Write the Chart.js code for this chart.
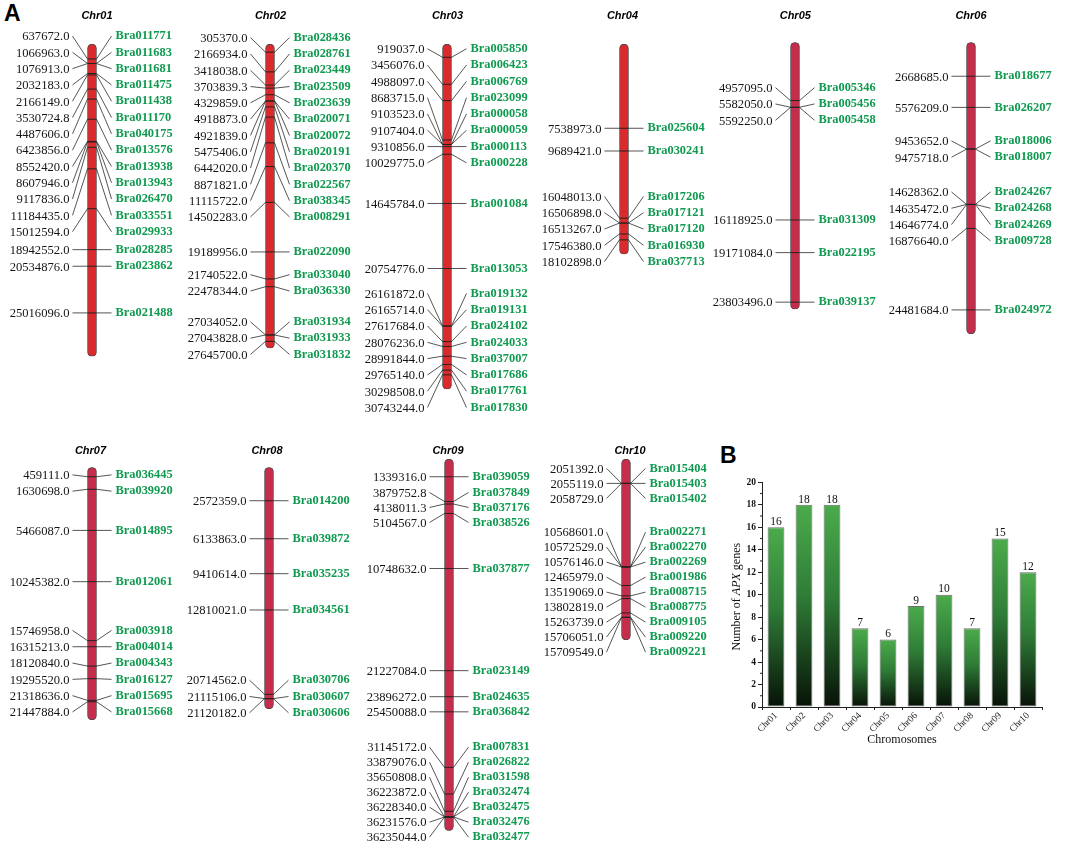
<!DOCTYPE html>
<html>
<head>
<meta charset="utf-8">
<title>APX genes on chromosomes</title>
<script src="https://cdn.jsdelivr.net/npm/chart.js@4"></script>
<style>
    html, body { margin: 0; padding: 0; background: #fff; }
    body { position: relative; width: 1065px; height: 851px; overflow: hidden; }
    canvas { position: absolute; }
    .panel { position: absolute; font: bold 23px "Liberation Sans", sans-serif; color: #000; line-height: 1; }
</style>
</head>
<body>
<div class="panel" style="left:4px;top:2px">A</div>
<div class="panel" style="left:720px;top:444px">B</div>
<script>
const chr01Pos = [637672, 1066963, 1076913, 2032183, 2166149, 3530724.8, 4487606, 6423856, 8552420, 8607946, 9117836, 11184435, 15012594, 18942552, 20534876, 25016096];
const chr01Genes = ['Bra011771', 'Bra011683', 'Bra011681', 'Bra011475', 'Bra011438', 'Bra011170', 'Bra040175', 'Bra013576', 'Bra013938', 'Bra013943', 'Bra026470', 'Bra033551', 'Bra029933', 'Bra028285', 'Bra023862', 'Bra021488'];
const chr02Pos = [305370, 2166934, 3418038, 3703839.3, 4329859, 4918873, 4921839, 5475406, 6442020, 8871821, 11115722, 14502283, 19189956, 21740522, 22478344, 27034052, 27043828, 27645700];
const chr02Genes = ['Bra028436', 'Bra028761', 'Bra023449', 'Bra023509', 'Bra023639', 'Bra020071', 'Bra020072', 'Bra020191', 'Bra020370', 'Bra022567', 'Bra038345', 'Bra008291', 'Bra022090', 'Bra033040', 'Bra036330', 'Bra031934', 'Bra031933', 'Bra031832'];
const chr03Pos = [919037, 3456076, 4988097, 8683715, 9103523, 9107404, 9310856, 10029775, 14645784, 20754776, 26161872, 26165714, 27617684, 28076236, 28991844, 29765140, 30298508, 30743244];
const chr03Genes = ['Bra005850', 'Bra006423', 'Bra006769', 'Bra023099', 'Bra000058', 'Bra000059', 'Bra000113', 'Bra000228', 'Bra001084', 'Bra013053', 'Bra019132', 'Bra019131', 'Bra024102', 'Bra024033', 'Bra037007', 'Bra017686', 'Bra017761', 'Bra017830'];
const chr04Pos = [7538973, 9689421, 16048013, 16506898, 16513267, 17546380, 18102898];
const chr04Genes = ['Bra025604', 'Bra030241', 'Bra017206', 'Bra017121', 'Bra017120', 'Bra016930', 'Bra037713'];
const chr05Pos = [4957095, 5582050, 5592250, 16118925, 19171084, 23803496];
const chr05Genes = ['Bra005346', 'Bra005456', 'Bra005458', 'Bra031309', 'Bra022195', 'Bra039137'];
const chr06Pos = [2668685, 5576209, 9453652, 9475718, 14628362, 14635472, 14646774, 16876640, 24481684];
const chr06Genes = ['Bra018677', 'Bra026207', 'Bra018006', 'Bra018007', 'Bra024267', 'Bra024268', 'Bra024269', 'Bra009728', 'Bra024972'];
const chr07Pos = [459111, 1630698, 5466087, 10245382, 15746958, 16315213, 18120840, 19295520, 21318636, 21447884];
const chr07Genes = ['Bra036445', 'Bra039920', 'Bra014895', 'Bra012061', 'Bra003918', 'Bra004014', 'Bra004343', 'Bra016127', 'Bra015695', 'Bra015668'];
const chr08Pos = [2572359, 6133863, 9410614, 12810021, 20714562, 21115106, 21120182];
const chr08Genes = ['Bra014200', 'Bra039872', 'Bra035235', 'Bra034561', 'Bra030706', 'Bra030607', 'Bra030606'];
const chr09Pos = [1339316, 3879752.8, 4138011.3, 5104567, 10748632, 21227084, 23896272, 25450088, 31145172, 33879076, 35650808, 36223872, 36228340, 36231576, 36235044];
const chr09Genes = ['Bra039059', 'Bra037849', 'Bra037176', 'Bra038526', 'Bra037877', 'Bra023149', 'Bra024635', 'Bra036842', 'Bra007831', 'Bra026822', 'Bra031598', 'Bra032474', 'Bra032475', 'Bra032476', 'Bra032477'];
const chr10Pos = [2051392, 2055119, 2058729, 10568601, 10572529, 10576146, 12465979, 13519069, 13802819, 15263739, 15706051, 15709549];
const chr10Genes = ['Bra015404', 'Bra015403', 'Bra015402', 'Bra002271', 'Bra002270', 'Bra002269', 'Bra001986', 'Bra008715', 'Bra008775', 'Bra009105', 'Bra009220', 'Bra009221'];

// chromosome extents in bp
const chrStart = [-800000, -470000, -330000, -440000, -490000, -500000, -420000, -560000, -480000, -430000];
const chrEnd = [29200000, 28300000, 32100000, 19470000, 24470000, 26730000, 23150000, 22090000, 37640000, 18020000];

const chrNames = ['Chr01', 'Chr02', 'Chr03', 'Chr04', 'Chr05', 'Chr06', 'Chr07', 'Chr08', 'Chr09', 'Chr10'];
const geneCounts = [16, 18, 18, 7, 6, 9, 10, 7, 15, 12];
const countTicks = [0, 2, 4, 6, 8, 10, 12, 14, 16, 18, 20];

const SERIF = '"Liberation Serif", serif';
const GREEN = '#0f9a50';
const RED = '#dc2a2c';
const CRIMSON = '#c72c4b';

// spread the labels so they don't overlap, groups stay centred on their marks
function layoutRows(marks, spacing) {
    let groups = marks.map(m => ({ lo: m, hi: m, n: 1 }));
    let merged = true;
    while (merged) {
        merged = false;
        for (let i = 0; i < groups.length - 1; i++) {
            const a = groups[i];
            const b = groups[i + 1];
            const aEnd = (a.lo + a.hi) / 2 + (a.n - 1) / 2 * spacing;
            const bStart = (b.lo + b.hi) / 2 - (b.n - 1) / 2 * spacing;
            if (bStart - aEnd < spacing - 0.01) {
                groups.splice(i, 2, { lo: a.lo, hi: b.hi, n: a.n + b.n });
                merged = true;
                break;
            }
        }
    }
    const rows = [];
    groups.forEach(g => {
        const first = (g.lo + g.hi) / 2 - (g.n - 1) / 2 * spacing;
        for (let i = 0; i < g.n; i++) rows.push(first + i * spacing);
    });
    return rows;
}

function makeChromosome(o) {
    const halfW = 92;
    const canvas = document.createElement('canvas');
    canvas.width = halfW * 2;
    canvas.height = o.height;
    canvas.style.left = (o.center - halfW) + 'px';
    canvas.style.top = o.offset + 'px';
    document.body.appendChild(canvas);

    const labelsPlugin = {
        id: 'geneLabels',
        afterDatasetsDraw(chart) {
            const ctx = chart.ctx;
            const y = chart.scales.y;
            const mid = halfW;
            const marks = o.pos.map(p => y.getPixelForValue(p));
            const rows = layoutRows(marks, o.spacing);
            ctx.save();
            ctx.strokeStyle = '#2b2b2b';
            ctx.lineWidth = 0.8;
            marks.forEach((m, i) => {
                ctx.beginPath();
                ctx.moveTo(mid - 19.5, rows[i]);
                ctx.lineTo(mid - 4.5, m);
                ctx.moveTo(mid + 4.5, m);
                ctx.lineTo(mid + 19.5, rows[i]);
                ctx.stroke();
            });
            ctx.textBaseline = 'middle';
            ctx.font = '12.6px ' + SERIF;
            ctx.fillStyle = '#151515';
            ctx.textAlign = 'right';
            o.pos.forEach((p, i) => ctx.fillText(p.toFixed(1), mid - 22.5, rows[i] + 1));
            ctx.font = 'bold 12.4px ' + SERIF;
            ctx.fillStyle = GREEN;
            ctx.textAlign = 'left';
            o.genes.forEach((g, i) => ctx.fillText(g, mid + 23.5, rows[i]));
            ctx.font = 'italic bold 11px "Liberation Sans", sans-serif';
            ctx.fillStyle = '#000';
            ctx.textAlign = 'center';
            ctx.fillText(o.name, mid + o.titleShift, o.titleY - o.offset);
            ctx.restore();
        }
    };

    return new Chart(canvas, {
        type: 'bar',
        data: {
            labels: [o.name],
            datasets: [
                {
                    type: 'line',
                    showLine: false,
                    data: o.pos.map(p => ({ x: o.name, y: p })),
                    pointStyle: 'line',
                    pointRadius: 4.5,
                    pointBorderWidth: 1,
                    pointBorderColor: '#222',
                    order: 1
                },
                {
                    data: [[o.start, o.end]],
                    backgroundColor: o.color,
                    borderColor: '#4a4a4a',
                    borderWidth: 1,
                    borderSkipped: false,
                    borderRadius: 5,
                    barThickness: 9,
                    order: 2
                }
            ]
        },
        options: {
            responsive: false,
            animation: false,
            layout: { padding: { top: o.top - o.offset, bottom: o.offset + o.height - o.bottom, left: 0, right: 0 } },
            plugins: { legend: { display: false }, tooltip: { enabled: false } },
            scales: {
                x: { display: false },
                y: { display: false, reverse: true, min: o.start, max: o.end }
            }
        },
        plugins: [labelsPlugin]
    });
}

const chrPos = [chr01Pos, chr02Pos, chr03Pos, chr04Pos, chr05Pos, chr06Pos, chr07Pos, chr08Pos, chr09Pos, chr10Pos];
const chrGenes = [chr01Genes, chr02Genes, chr03Genes, chr04Genes, chr05Genes, chr06Genes, chr07Genes, chr08Genes, chr09Genes, chr10Genes];
const centers = [92, 269.5, 447, 624.3, 794.7, 971, 92.3, 268.7, 448.7, 626];
const tops = [44, 44, 44, 44, 42.3, 42.3, 467.3, 467.3, 459, 459];
const bottoms = [356.5, 348.3, 389.3, 254.3, 309.3, 334, 720, 709, 830.7, 640];
const titleShifts = [5, 0.5, 0.5, -1.5, 0.3, 0, -1.5, -2, -1, 4];

chrNames.forEach((name, i) => {
    const lower = i >= 6;
    makeChromosome({
        name: name,
        pos: chrPos[i],
        genes: chrGenes[i],
        start: chrStart[i],
        end: chrEnd[i],
        center: centers[i],
        top: tops[i],
        bottom: bottoms[i],
        offset: lower ? 430 : 0,
        height: lower ? 421 : 430,
        spacing: i >= 8 ? 15 : 16.3,
        color: i < 4 ? RED : CRIMSON,
        titleShift: titleShifts[i],
        titleY: lower ? 451 : 16
    });
});

// panel B
const countCanvas = document.createElement('canvas');
countCanvas.width = 330;
countCanvas.height = 277;
countCanvas.style.left = '721.7px';
countCanvas.style.top = '470px';
document.body.appendChild(countCanvas);

const countPlugin = {
    id: 'countExtras',
    afterDraw(chart) {
        const ctx = chart.ctx;
        const y = chart.scales.y;
        ctx.save();
        // minor ticks on the odd values
        ctx.strokeStyle = '#222';
        ctx.lineWidth = 1;
        for (let v = 1; v < 20; v += 2) {
            const py = y.getPixelForValue(v);
            ctx.beginPath();
            ctx.moveTo(y.right, py);
            ctx.lineTo(y.right - 2, py);
            ctx.stroke();
        }
        // value over each bar
        ctx.font = '11.5px ' + SERIF;
        ctx.fillStyle = '#111';
        ctx.textAlign = 'center';
        ctx.textBaseline = 'bottom';
        chart.getDatasetMeta(0).data.forEach((bar, i) => {
            ctx.fillText(geneCounts[i], bar.x, bar.y + 0.5);
        });
        // y title has an italic part so it can't use the axis title
        const parts = [['Number of ', '12px '], ['APX', 'italic 12px '], [' genes', '12px ']];
        let total = 0;
        parts.forEach(p => {
            ctx.font = p[1] + SERIF;
            total += ctx.measureText(p[0]).width;
        });
        ctx.translate(14.5, y.getPixelForValue(10) + 2);
        ctx.rotate(-Math.PI / 2);
        ctx.textAlign = 'left';
        ctx.textBaseline = 'middle';
        let px = -total / 2;
        parts.forEach(p => {
            ctx.font = p[1] + SERIF;
            ctx.fillText(p[0], px, 0);
            px += ctx.measureText(p[0]).width;
        });
        ctx.restore();
    }
};

new Chart(countCanvas, {
    type: 'bar',
    data: {
        labels: chrNames,
        datasets: [{
            data: geneCounts,
            backgroundColor(c) {
                const chart = c.chart;
                if (!chart.chartArea || c.raw === undefined) return '#2e7d32';
                const y = chart.scales.y;
                const g = chart.ctx.createLinearGradient(0, y.getPixelForValue(c.raw), 0, y.getPixelForValue(0));
                g.addColorStop(0, '#4bab4b');
                g.addColorStop(0.45, '#2f7d37');
                g.addColorStop(1, '#071207');
                return g;
            },
            borderColor: '#6e6e6e',
            borderWidth: 1,
            borderSkipped: false,
            categoryPercentage: 1,
            barPercentage: 0.6
        }]
    },
    options: {
        responsive: false,
        animation: false,
        layout: { padding: { top: 12.3, right: 10, left: 0, bottom: 0 } },
        plugins: { legend: { display: false }, tooltip: { enabled: false } },
        scales: {
            x: {
                grid: { drawOnChartArea: false, tickLength: 3, tickColor: '#222' },
                border: { color: '#222', width: 1 },
                ticks: { maxRotation: 45, minRotation: 45, padding: 0, color: '#222', font: { family: SERIF, size: 9.5 } },
                title: { display: true, text: 'Chromosomes', color: '#111', padding: 0, font: { family: SERIF, size: 12 } },
                afterFit(scale) { scale.height = 40; }
            },
            y: {
                min: 0,
                max: 20,
                afterBuildTicks(scale) { scale.ticks = countTicks.map(v => ({ value: v })); },
                grid: { drawOnChartArea: false, tickLength: 4, tickColor: '#222' },
                border: { color: '#222', width: 1 },
                ticks: { padding: 2, color: '#111', font: { family: SERIF, size: 9.5, weight: 'bold' } },
                afterFit(scale) { scale.width = 40; }
            }
        }
    },
    plugins: [countPlugin]
});
</script>
</body>
</html>
